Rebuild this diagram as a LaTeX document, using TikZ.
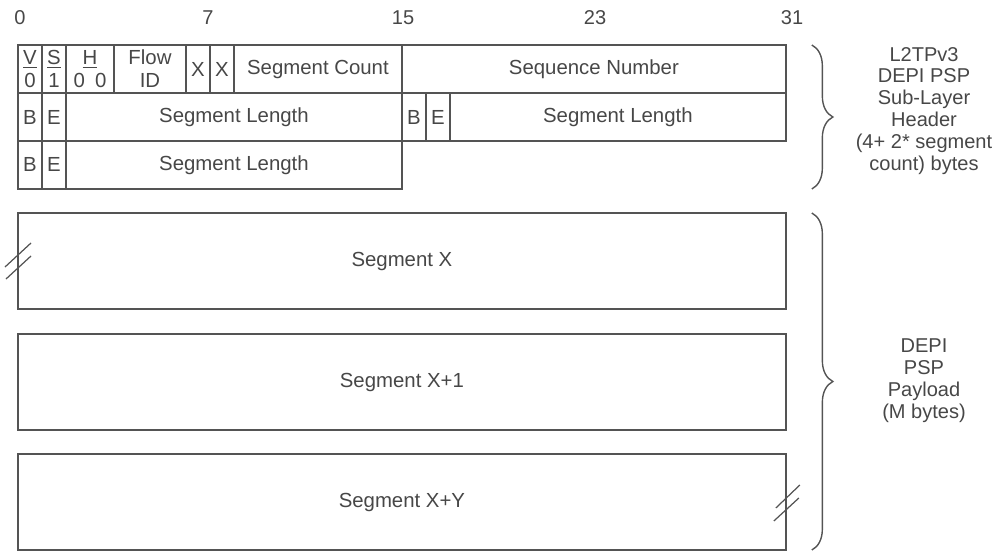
\documentclass[tikz,border=0pt]{standalone}
\usepackage{fontspec}
\setmainfont{Liberation Sans}
\usetikzlibrary{decorations.pathreplacing,calc}
\definecolor{linegray}{gray}{0.33}
\definecolor{textgray}{gray}{0.28}
\tikzset{
  field/.style={draw=linegray, line width=0.8pt, text=textgray, inner sep=0pt,
    outer sep=0pt, minimum height=0.96cm, anchor=north west, align=center,
    font=\fontsize{11.6}{13}\selectfont},
  bits/.style={minimum width=#1*0.48cm},
  segment/.style={field, bits=32, minimum height=1.92cm},
  brk/.style={draw=linegray, line width=0.7pt},
  bracket/.style={draw=linegray, line width=0.8pt, decorate,
    decoration={brace, amplitude=0.42cm}},
  side/.style={text=textgray, align=center, font=\fontsize{11.4}{12.5}\selectfont}
}

\begin{document}
\begin{tikzpicture}[x=0.02cm, y=-0.02cm]
    \useasboundingbox (0,0) rectangle (993,552);
    % bit numbers
    \foreach \b/\x in {0/20, 7/208, 15/403, 23/595, 31/792}
      \node[side] (bit\b) at (\x,18) {\b};

    % header, first word
    \node[field, bits=1] (v) at (18,45) {\underline{V}\\0};
    \node[field, bits=1] (s) at (v.north east) {\underline{S}\\1};
    \node[field, bits=2] (h) at (s.north east) {\underline{H}\\0\enspace0};
    \node[field, bits=3] (flow) at (h.north east) {Flow\\ID};
    \node[field, bits=1] (xa) at (flow.north east) {X};
    \node[field, bits=1] (xb) at (xa.north east) {X};
    \node[field, bits=7] (segcnt) at (xb.north east) {Segment Count};
    \node[field, bits=16] (seqnum) at (segcnt.north east) {Sequence Number};
    % header, second word
    \node[field, bits=1] (ba) at (v.south west) {B};
    \node[field, bits=1] (ea) at (ba.north east) {E};
    \node[field, bits=14] (lena) at (ea.north east) {Segment Length};
    \node[field, bits=1] (bb) at (lena.north east) {B};
    \node[field, bits=1] (eb) at (bb.north east) {E};
    \node[field, bits=14] (lenb) at (eb.north east) {Segment Length};
    % header, third word
    \node[field, bits=1] (bc) at (ba.south west) {B};
    \node[field, bits=1] (ec) at (bc.north east) {E};
    \node[field, bits=14] (lenc) at (ec.north east) {Segment Length};

    % payload
    \node[segment] (segX) at (18,213) {Segment X};
    \node[segment] (segX1) at (18,334) {Segment X+1};
    \node[segment] (segXY) at (18,454) {Segment X+Y};

    % break marks
    \draw[brk] ([shift={(-13,6)}]segX.west) -- ++(26,-24);
    \draw[brk] ([shift={(-12,18)}]segX.west) -- ++(25,-23);
    \draw[brk] ([shift={(-10,6)}]segXY.east) -- ++(24,-23);
    \draw[brk] ([shift={(-12,19)}]segXY.east) -- ++(25,-23);

    % braces
    \draw[bracket] ($(seqnum.north east)+(26,0)$) -- ($(seqnum.east |- lenc.south)+(26,0)$);
    \draw[bracket] ($(segX.north east)+(26,0)$) -- ($(segXY.south east)+(26,0)$);

    % notes
    \node[side] (hdrnote) at (924,111) {L2TPv3\\DEPI PSP\\Sub-Layer\\Header\\(4+ 2* segment\\count) bytes};
    \node[side] (paynote) at (924,381) {DEPI\\PSP\\Payload\\(M bytes)};
\end{tikzpicture}
\end{document}
